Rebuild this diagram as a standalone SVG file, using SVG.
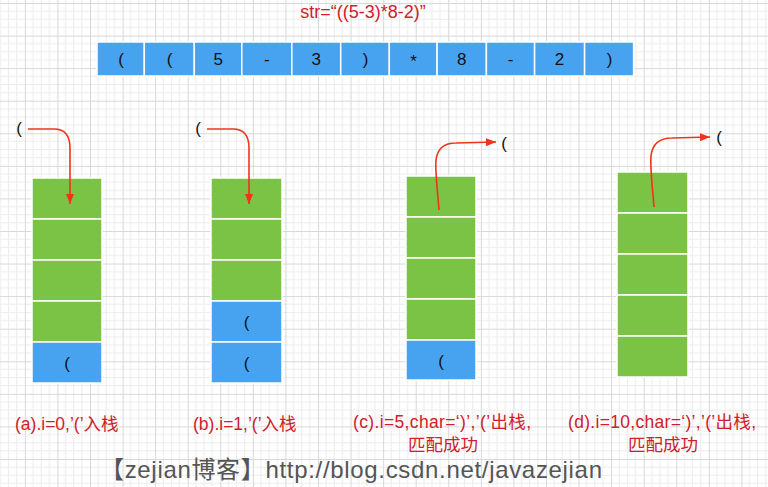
<svg xmlns="http://www.w3.org/2000/svg" width="768" height="487" viewBox="0 0 768 487">
<defs>
<pattern id="grid" patternUnits="userSpaceOnUse" x="24.86" y="3" width="32.57" height="32.57">
<rect width="32.57" height="32.57" fill="#ffffff"/>
<path d="M8.14,0V32.57M16.29,0V32.57M24.43,0V32.57M0,8.14H32.57M0,16.29H32.57M0,24.43H32.57" stroke="#ececec" stroke-width="1" fill="none"/>
<path d="M0.5,0V32.57M0,0.5H32.57" stroke="#d8d8d8" stroke-width="1" fill="none"/>
</pattern>
<marker id="ah" markerUnits="userSpaceOnUse" markerWidth="10" markerHeight="8" refX="10" refY="4" orient="auto">
<path d="M0,0L10,4L0,8z" fill="#f0341c"/>
</marker>
<style>
.t{font-family:"Liberation Sans","Noto Sans CJK SC",sans-serif;}
.cellb{fill:#47a3ef;stroke:#ffffff;stroke-width:1.5;}
.cellg{fill:#7bc344;stroke:#ffffff;stroke-width:1.5;}
.ch{font-size:17px;fill:#111111;text-anchor:middle;}
.sp{font-size:17px;fill:#111111;text-anchor:middle;}
.lbl{font-size:17.5px;fill:#d0202a;}
.arr{fill:none;stroke:#f0341c;stroke-width:1.6;marker-end:url(#ah);}
</style>
</defs>
<rect width="768" height="487" fill="url(#grid)"/>

<text class="t" x="363" y="18" font-size="18" fill="#d0202a" text-anchor="middle">str=“((5-3)*8-2)”</text>

<g id="array">
<rect class="cellb" x="97" y="42" width="47.3" height="34"/>
<rect class="cellb" x="144.3" y="42" width="50" height="34"/>
<rect class="cellb" x="194.3" y="42" width="47.5" height="34"/>
<rect class="cellb" x="241.8" y="42" width="50" height="34"/>
<rect class="cellb" x="291.8" y="42" width="48.9" height="34"/>
<rect class="cellb" x="340.7" y="42" width="48.6" height="34"/>
<rect class="cellb" x="389.3" y="42" width="47.8" height="34"/>
<rect class="cellb" x="437.1" y="42" width="49.3" height="34"/>
<rect class="cellb" x="486.4" y="42" width="48.2" height="34"/>
<rect class="cellb" x="534.6" y="42" width="50" height="34"/>
<rect class="cellb" x="584.6" y="42" width="49" height="34"/>
<text class="t ch" x="121" y="65">(</text>
<text class="t ch" x="169.5" y="65">(</text>
<text class="t ch" x="218.3" y="65">5</text>
<text class="t ch" x="266.8" y="65">-</text>
<text class="t ch" x="316.2" y="65">3</text>
<text class="t ch" x="365.5" y="65">)</text>
<text class="t ch" x="413.5" y="67">*</text>
<text class="t ch" x="461.7" y="65">8</text>
<text class="t ch" x="510.5" y="65">-</text>
<text class="t ch" x="559.6" y="65">2</text>
<text class="t ch" x="609.5" y="65">)</text>
</g>

<g id="stackA">
<rect class="cellg" x="32" y="178" width="70" height="41"/>
<rect class="cellg" x="32" y="219" width="70" height="41"/>
<rect class="cellg" x="32" y="260" width="70" height="41"/>
<rect class="cellg" x="32" y="301" width="70" height="41"/>
<rect class="cellb" x="32" y="342" width="70" height="41"/>
<text class="t sp" x="67" y="369">(</text>
<text class="t sp" x="19" y="134">(</text>
<text class="t lbl" x="15" y="430">(a).i=0,’(’入栈</text>
</g>

<g id="stackB">
<rect class="cellg" x="211" y="178" width="71" height="41"/>
<rect class="cellg" x="211" y="219" width="71" height="41"/>
<rect class="cellg" x="211" y="260" width="71" height="41"/>
<rect class="cellb" x="211" y="301" width="71" height="41"/>
<rect class="cellb" x="211" y="342" width="71" height="41"/>
<text class="t sp" x="246.5" y="328">(</text>
<text class="t sp" x="246.5" y="369">(</text>
<text class="t sp" x="198" y="134">(</text>
<text class="t lbl" x="193" y="430">(b).i=1,’(’入栈</text>
</g>

<g id="stackC">
<rect class="cellg" x="406" y="176" width="70" height="41"/>
<rect class="cellg" x="406" y="217" width="70" height="41"/>
<rect class="cellg" x="406" y="258" width="70" height="41"/>
<rect class="cellg" x="406" y="299" width="70" height="41"/>
<rect class="cellb" x="406" y="340" width="70" height="40"/>
<text class="t sp" x="441" y="367">(</text>
<text class="t sp" x="504" y="149">(</text>
<text class="t lbl" x="353" y="428" textLength="178" lengthAdjust="spacing">(c).i=5,char=‘)’,’(’出栈,</text>
<text class="t lbl" x="408" y="451">匹配成功</text>
</g>

<g id="stackD">
<rect class="cellg" x="617" y="172" width="71" height="41"/>
<rect class="cellg" x="617" y="213" width="71" height="41"/>
<rect class="cellg" x="617" y="254" width="71" height="41"/>
<rect class="cellg" x="617" y="295" width="71" height="41"/>
<rect class="cellg" x="617" y="336" width="71" height="41"/>
<text class="t sp" x="719" y="143">(</text>
<text class="t lbl" x="568" y="428" textLength="188" lengthAdjust="spacing">(d).i=10,char=‘)’,’(’出栈,</text>
<text class="t lbl" x="628" y="451">匹配成功</text>
</g>

<g id="connectors">
<path class="arr" d="M28,129 L54,129 Q70,129 70,148 L70,204"/>
<path class="arr" d="M207,129 L233,129 Q249,129 249,148 L249,204"/>
<path class="arr" d="M439,210 C437,185 435,170 436,160 Q438,143 456,143 L496,142"/>
<path class="arr" d="M654,207 C652,182 650,167 651,156 Q653,138 672,138 L710,137"/>
</g>

<text class="t" x="100" y="478" font-size="24" fill="#555555" textLength="502" lengthAdjust="spacing">【zejian博客】http://blog.csdn.net/javazejian</text>
</svg>
